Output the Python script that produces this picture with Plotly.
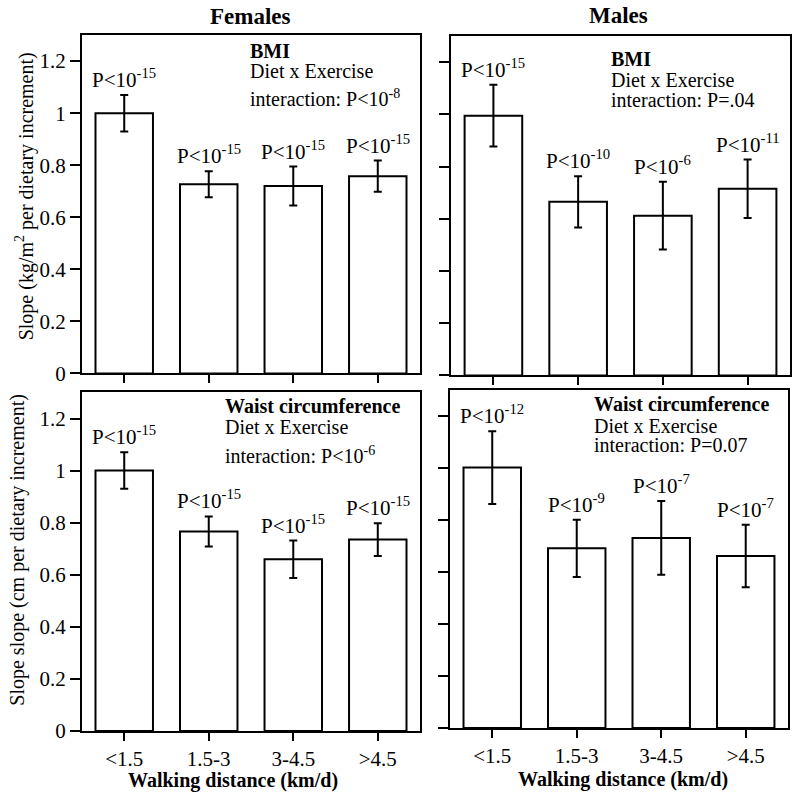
import plotly.graph_objects as go

# --------- data ---------
categories = ["<1.5", "1.5-3", "3-4.5", ">4.5"]

fem_bmi = [1.0, 0.727, 0.72, 0.758]
fem_bmi_err = [0.07, 0.05, 0.075, 0.06]
fem_bmi_p = ["-15", "-15", "-15", "-15"]

male_bmi = [0.995, 0.665, 0.612, 0.715]
male_bmi_err = [0.118, 0.098, 0.13, 0.112]
male_bmi_p = ["-15", "-10", "-6", "-11"]

fem_waist = [1.0, 0.766, 0.659, 0.735]
fem_waist_err = [0.07, 0.058, 0.072, 0.063]
fem_waist_p = ["-15", "-15", "-15", "-15"]

male_waist = [1.0, 0.69, 0.73, 0.66]
male_waist_err = [0.14, 0.11, 0.142, 0.12]
male_waist_p = ["-12", "-9", "-7", "-7"]

panel_notes = [
    ("BMI", "Diet x Exercise", "interaction: P<10<sup>-8</sup>"),
    ("BMI", "Diet x Exercise", "interaction: P=.04"),
    ("Waist circumference", "Diet x Exercise", "interaction: P<10<sup>-6</sup>"),
    ("Waist circumference", "Diet x Exercise", "interaction: P=0.07"),
]

FONT = "Liberation Serif, Times New Roman, serif"

panels = [
    (fem_bmi, fem_bmi_err, fem_bmi_p, "x", "y"),
    (male_bmi, male_bmi_err, male_bmi_p, "x2", "y2"),
    (fem_waist, fem_waist_err, fem_waist_p, "x3", "y3"),
    (male_waist, male_waist_err, male_waist_p, "x4", "y4"),
]

fig = go.Figure()
for vals, errs, pvals, xa, ya in panels:
    fig.add_trace(go.Bar(
        x=categories, y=vals, xaxis=xa, yaxis=ya, width=0.68,
        marker=dict(color="white", line=dict(color="black", width=2)),
        error_y=dict(type="data", array=errs, color="black", thickness=2, width=4),
        showlegend=False,
    ))

# panel placement (x domain, y domain)
domains = [
    ([0.1026, 0.5257], [0.5326, 0.9561]),
    ([0.5645, 0.9887], [0.5301, 0.9549]),
    ([0.1026, 0.5257], [0.0852, 0.5088]),
    ([0.5632, 0.9862], [0.0890, 0.5125]),
]

# the page gets photographed a little taller than 798 and squeezed back,
# so the figure is drawn 811 tall to land on the reference positions
layout = dict(
    width=799, height=811, autosize=False,
    margin=dict(l=0, r=0, t=0, b=0),
    plot_bgcolor="white", paper_bgcolor="white",
    font=dict(family=FONT, size=20, color="black"),
)
for i, (xd, yd) in enumerate(domains, 1):
    sfx = "" if i == 1 else str(i)
    layout["xaxis" + sfx] = dict(
        domain=xd, anchor="y" + sfx, range=[-0.5, 3.5], type="category",
        showline=True, mirror=True, linecolor="black", linewidth=2,
        ticks="outside", ticklen=8, tickwidth=2, tickcolor="black",
        showticklabels=i > 2, showgrid=False, zeroline=False,
        tickfont=dict(size=21),
    )
    layout["yaxis" + sfx] = dict(
        domain=yd, anchor="x" + sfx, range=[0, 1.3], dtick=0.2,
        showline=True, mirror=True, linecolor="black", linewidth=2,
        ticks="outside", ticklen=10, tickwidth=2, tickcolor="black",
        showticklabels=i % 2 == 1, showgrid=False, zeroline=False,
        tickfont=dict(size=21),
    )
fig.update_layout(**layout)

ann = []
# P-value labels above each error bar
for vals, errs, pvals, xa, ya in panels:
    for c, v, e, p in zip(categories, vals, errs, pvals):
        ann.append(dict(
            x=c, y=v + e, xref=xa, yref=ya, xanchor="center", yanchor="bottom",
            yshift=1, text="P<10<sup>" + p + "</sup>", showarrow=False,
            font=dict(size=21),
        ))

# panel notes
note_pos = [
    (0.491, [0.953, 0.893, 0.815]),
    (0.466, [0.932, 0.870, 0.812]),
    (0.417, [0.959, 0.899, 0.815]),
    (0.420, [0.956, 0.893, 0.837]),
]
for i, (notes, (nx, nys)) in enumerate(zip(panel_notes, note_pos), 1):
    sfx = "" if i == 1 else str(i)
    for j, (txt, ny) in enumerate(zip(notes, nys)):
        ann.append(dict(
            x=nx, y=ny, xref="x" + sfx + " domain", yref="y" + sfx + " domain",
            xanchor="left", yanchor="middle", showarrow=False,
            text="<b>" + txt + "</b>" if j == 0 else txt, font=dict(size=20),
        ))

# column titles, axis titles
title_kw = dict(xref="paper", yref="paper", xanchor="center", yanchor="middle",
                showarrow=False)
ann += [
    dict(x=0.314, y=0.979, text="<b>Females</b>", font=dict(size=23), **title_kw),
    dict(x=0.774, y=0.980, text="<b>Males</b>", font=dict(size=23), **title_kw),
    dict(x=0.031, y=0.754, textangle=-90,
         text="Slope (kg/m<sup>2</sup> per dietary increment)",
         font=dict(size=20), **title_kw),
    dict(x=0.0225, y=0.312, textangle=-90,
         text="Slope slope (cm per dietary increment)",
         font=dict(size=20), **title_kw),
    dict(x=0.2916, y=0.0226, text="<b>Walking distance (km/d)</b>",
         font=dict(size=20), **title_kw),
    dict(x=0.780, y=0.025, text="<b>Walking distance (km/d)</b>",
         font=dict(size=20), **title_kw),
]
fig.update_layout(annotations=ann)

pin = ("document.body.style.margin='0';"
       "var gd=document.getElementById('{plot_id}');"
       "gd.style.position='fixed';gd.style.left='0px';gd.style.top='0px';")
fig.write_html("out.html", config={"displayModeBar": False, "responsive": False},
               post_script=pin)
